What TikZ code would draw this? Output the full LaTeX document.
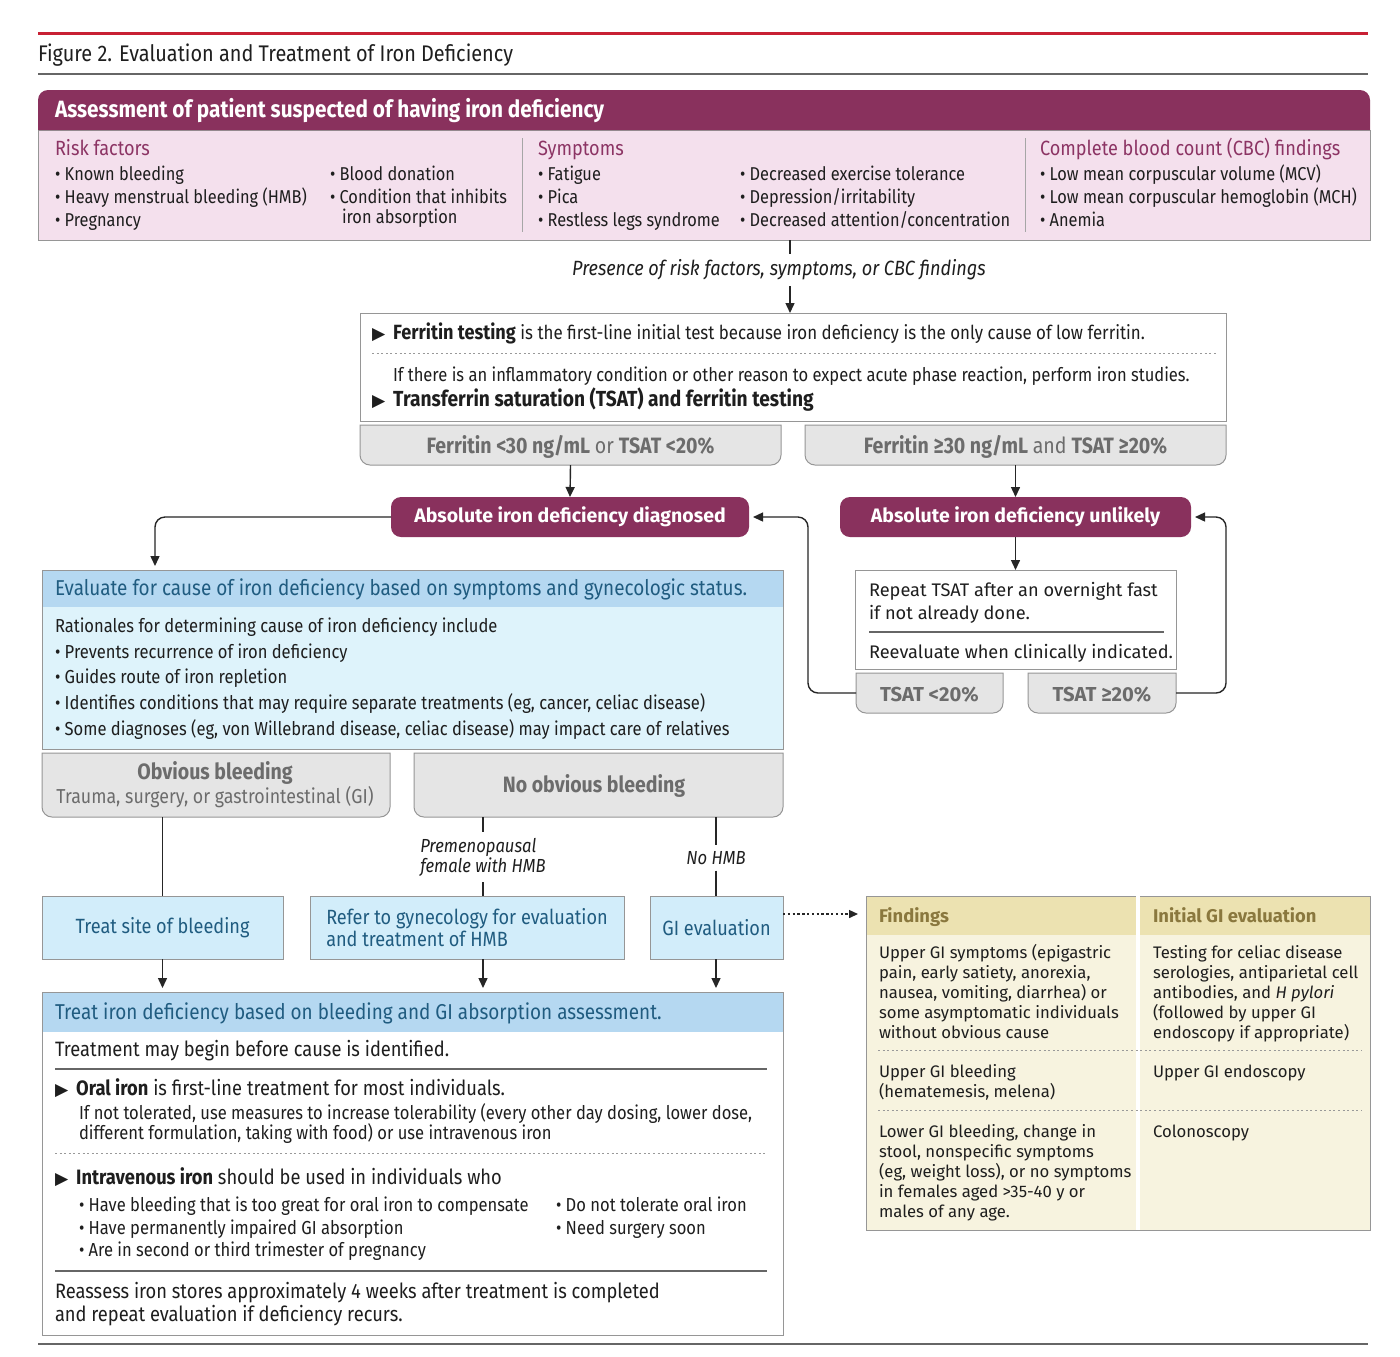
\documentclass[tikz,border=0pt]{standalone}
\usepackage{fontspec}
\setmainfont{Fira Sans}[FakeStretch=0.88]
\newfontfamily\widefont{Fira Sans}
\newfontfamily\symfont{DejaVu Sans}
\usetikzlibrary{arrows.meta,positioning}

% colours
\definecolor{jamared}{RGB}{200,32,52}
\definecolor{plum}{RGB}{137,49,93}
\definecolor{plumtext}{RGB}{140,52,100}
\definecolor{pinkfill}{RGB}{244,224,237}
\definecolor{boxline}{RGB}{150,150,150}
\definecolor{grayfill}{RGB}{229,229,229}
\definecolor{graytext}{RGB}{108,108,108}
\definecolor{bluehead}{RGB}{181,216,241}
\definecolor{bluebody}{RGB}{222,243,251}
\definecolor{bluetext}{RGB}{32,92,128}
\definecolor{cyanfill}{RGB}{210,237,250}
\definecolor{tanhead}{RGB}{236,226,177}
\definecolor{tanbody}{RGB}{247,243,223}
\definecolor{tantext}{RGB}{138,120,62}
\definecolor{inktext}{RGB}{30,30,30}

% font sizes
\newcommand\bodysize{\fontsize{9.3}{11}\selectfont}
\newcommand\bigsize{\fontsize{10.4}{12}\selectfont}
\newcommand\smallsize{\fontsize{9.4}{11}\selectfont}
\newcommand\tri{{\symfont\fontsize{8.6}{9}\selectfont ▶}}

% gray box with rounded lower corners, drawn round an empty node
\newcommand\graybottom[1]{%
  \draw[draw=boxline, fill=grayfill, line width=0.5pt] (#1.north west) -- (#1.north east)
    -- ([yshift=5pt]#1.south east) arc[start angle=0, end angle=-90, radius=5pt]
    -- ([xshift=5pt]#1.south west) arc[start angle=-90, end angle=-180, radius=5pt] -- cycle;}

\tikzset{
  every node/.style={inner sep=0pt, outer sep=0pt},
  txt/.style={anchor=mid west, yshift=-1pt, font=\bodysize, text=inktext},
  small/.style={anchor=mid west, yshift=-1pt, font=\smallsize, text=inktext},
  head/.style={anchor=mid west, yshift=-1pt, font=\fontsize{10.3}{12}\selectfont, text=plumtext},
  lbl/.style={font=\itshape\bodysize, text=inktext, inner sep=3pt, align=left},
  frame/.style={draw=boxline, line width=0.5pt},
  gtxt/.style={yshift=-1pt, font=\bfseries\fontsize{11.1}{12}\selectfont, text=graytext},
  plumbox/.style={fill=plum, rounded corners=5pt, text=white, minimum height=20pt,
    font=\widefont\bfseries\fontsize{9.75}{11}\selectfont},
  cyanbox/.style={frame, fill=cyanfill, minimum height=31.5pt, text=bluetext,
    font=\fontsize{10.3}{11}\selectfont, align=left},
  bluehd/.style={anchor=mid west, yshift=-1pt, font=\fontsize{10.75}{12}\selectfont, text=bluetext},
  wire/.style={draw=black!85, line width=0.7pt},
  arrow/.style={wire, -{Triangle[length=5pt, width=4.5pt]}},
  dots/.style={draw=black!40, line width=0.5pt, dash pattern=on 1pt off 1.3pt},
  tabtxt/.style={anchor=mid west, yshift=-1pt, font=\widefont\fontsize{8.35}{10}\selectfont, text=inktext},
  tabhd/.style={anchor=mid west, yshift=-1pt, font=\widefont\bfseries\fontsize{9.2}{10}\selectfont, text=tantext},
}

\begin{document}
\begin{tikzpicture}[x=0.5pt, y=-0.5pt]
\useasboundingbox (0,0) rectangle (1400,1356);
\fill[white] (0,0) rectangle (1400,1356);

% title and rules
\draw[jamared, line width=1.5pt] (38,33) -- (1368,33);
\node[anchor=mid west, yshift=-1pt, font=\fontsize{11.3}{13}\selectfont, text=inktext] (title) at (38,54) {Figure 2. Evaluation and Treatment of Iron Deficiency};
\draw[black!60, line width=0.6pt] (38,74) -- (1368,74);
\draw[black!60, line width=0.6pt] (38,1344) -- (1368,1344);

% assessment box
\node[minimum width=666pt, minimum height=75pt] (assess) at (704,165) {};
\draw[frame, fill=pinkfill] (38,130) rectangle (1370,240);
\fill[plum] (38,130) -- (38,100) arc[start angle=180, end angle=90, radius=5pt]
  -- (1360,90) arc[start angle=90, end angle=0, radius=5pt] -- (1370,130) -- cycle;
\node[anchor=mid west, yshift=-1pt, text=white, font=\bfseries\fontsize{11.8}{13}\selectfont] (assesshead) at (55,110) {Assessment of patient suspected of having iron deficiency};
\draw[black!35] (522,138) -- (522,232);
\draw[black!35] (1025,138) -- (1025,232);

\node[head] (riskhead) at (55,148) {Risk factors};
\node[txt] (risk1) at (55,173) {• Known bleeding};
\node[txt] (risk2) at (55,196) {• Heavy menstrual bleeding (HMB)};
\node[txt] (risk3) at (55,219) {• Pregnancy};
\node[txt] (risk4) at (330,173) {• Blood donation};
\node[txt] (risk5) at (330,196) {• Condition that inhibits};
\node[txt] (risk6) at (342,216) {iron absorption};

\node[head] (symphead) at (538,148) {Symptoms};
\node[txt] (symp1) at (538,173) {• Fatigue};
\node[txt] (symp2) at (538,196) {• Pica};
\node[txt] (symp3) at (538,219) {• Restless legs syndrome};
\node[txt] (symp4) at (740,173) {• Decreased exercise tolerance};
\node[txt] (symp5) at (740,196) {• Depression/irritability};
\node[txt] (symp6) at (740,219) {• Decreased attention/concentration};

\node[head] (cbchead) at (1040,148) {Complete blood count (CBC) findings};
\node[txt] (cbc1) at (1040,173) {• Low mean corpuscular volume (MCV)};
\node[txt] (cbc2) at (1040,196) {• Low mean corpuscular hemoglobin (MCH)};
\node[txt] (cbc3) at (1040,219) {• Anemia};

% testing
\coordinate (assessout) at (790,240);
\node[lbl, font=\itshape\fontsize{10.3}{12}\selectfont] (presence) at (779,270) {Presence of risk factors, symptoms, or CBC findings};
\node[frame, fill=white, minimum width=433pt, minimum height=54pt] (ferr) at (793,367) {};
\draw[wire] (assessout) -- (assessout |- presence.north);
\draw[arrow] (assessout |- presence.south) -- (assessout |- ferr.north);

\node[txt, font=\fontsize{9.6}{11}\selectfont] (ferr1) at (372,332) {\tri\hspace{4pt}{\fontsize{10.3}{11}\selectfont\bfseries Ferritin testing} is the first-line initial test because iron deficiency is the only cause of low ferritin.};
\draw[dots] (372,353) -- (1218,353);
\node[txt, font=\fontsize{9.4}{11}\selectfont] (ferr2) at (393,374) {If there is an inflammatory condition or other reason to expect acute phase reaction, perform iron studies.};
\node[txt] (ferr3) at (372,399) {\tri\hspace{4pt}{\fontsize{10.9}{12}\selectfont\bfseries Transferrin saturation (TSAT) and ferritin testing}};

\node[minimum width=210.5pt, minimum height=20pt] (ferrlow) at (570.5,445) {};
\graybottom{ferrlow}
\node[gtxt] (ferrlowtxt) at (ferrlow) {Ferritin <30 ng/mL \mdseries or \bfseries TSAT <20\%};
\node[minimum width=210.5pt, minimum height=20pt] (ferrhigh) at (1015.5,445) {};
\graybottom{ferrhigh}
\node[gtxt] (ferrhightxt) at (ferrhigh) {Ferritin ≥30 ng/mL \mdseries and \bfseries TSAT ≥20\%};

% outcome of testing
\node[plumbox, minimum width=179pt] (diag) at (570,517) {Absolute iron deficiency diagnosed};
\node[plumbox, minimum width=175.5pt] (unlikely) at (1015.5,517) {Absolute iron deficiency unlikely};
\draw[arrow] (ferrlow.south) -- (diag.north);
\draw[arrow] (ferrhigh.south) -- (unlikely.north);

\node[frame, fill=white, minimum width=160.5pt, minimum height=49.5pt] (retest) at (1015.5,619.5) {};
\draw[arrow] (unlikely.south) -- (retest.north);
\node[tabtxt, font=\widefont\fontsize{9.1}{10}\selectfont] (retest1) at (869,589) {Repeat TSAT after an overnight fast};
\node[tabtxt, font=\widefont\fontsize{9.1}{10}\selectfont] (retest2) at (869,612) {if not already done.};
\draw[black!60, line width=0.6pt] (869,632) -- (1164,632);
\node[tabtxt, font=\widefont\fontsize{9.1}{10}\selectfont] (retest3) at (869,651) {Reevaluate when clinically indicated.};

\node[minimum width=73.5pt, minimum height=20pt] (tsatlow) at (929.5,693) {};
\graybottom{tsatlow}
\node[gtxt, font=\widefont\bfseries\fontsize{10.1}{11}\selectfont] (tsatlowtxt) at (tsatlow) {TSAT <20\%};
\node[minimum width=74pt, minimum height=20pt] (tsathigh) at (1102,693) {};
\graybottom{tsathigh}
\node[gtxt, font=\widefont\bfseries\fontsize{10.1}{11}\selectfont] (tsathightxt) at (tsathigh) {TSAT ≥20\%};

\draw[arrow, rounded corners=5pt, shorten >=2pt] (tsatlow.west) -- ++(-48,0) |- (diag.east);
\draw[arrow, rounded corners=5pt, shorten >=2pt] (tsathigh.east) -- ++(50,0) |- (unlikely.east);

% evaluation of cause
\node[frame, fill=bluebody, minimum width=370.5pt, minimum height=89.5pt] (eval) at (412.5,659.5) {};
\fill[bluehead] (42,570) rectangle (783,607);
\draw[frame] (eval.south west) rectangle (eval.north east);
\coordinate (evalin) at (155,570);
\draw[arrow, rounded corners=5pt, shorten >=2pt] (diag.west) -| (evalin);
\node[bluehd] (evalhead) at (55,588) {Evaluate for cause of iron deficiency based on symptoms and gynecologic status.};
\node[small] (eval1) at (55,625) {Rationales for determining cause of iron deficiency include};
\node[small] (eval2) at (55,651) {• Prevents recurrence of iron deficiency};
\node[small] (eval3) at (55,676) {• Guides route of iron repletion};
\node[small] (eval4) at (55,702) {• Identifies conditions that may require separate treatments (eg, cancer, celiac disease)};
\node[small] (eval5) at (55,728) {• Some diagnoses (eg, von Willebrand disease, celiac disease) may impact care of relatives};

\node[minimum width=174pt, minimum height=32pt] (obvious) at (216,785) {};
\graybottom{obvious}
\node[gtxt] (obvious1) at (215,771) {Obvious bleeding};
\node[gtxt, font=\fontsize{10.1}{11}\selectfont] (obvious2) at (215,795) {Trauma, surgery, or gastrointestinal (GI)};
\node[minimum width=184.5pt, minimum height=32pt] (noobvious) at (598.5,785) {};
\graybottom{noobvious}
\node[gtxt] (noobvious1) at (594,784) {No obvious bleeding};

\node[cyanbox, minimum width=120.5pt] (site) at (162.5,927.5) {Treat site of bleeding};
\node[cyanbox, minimum width=157pt] (gyn) at (467,927.5) {Refer to gynecology for evaluation\\and treatment of HMB};
\node[cyanbox, minimum width=66.5pt] (gieval) at (716.5,927.5) {GI evaluation};

\node[lbl, font=\itshape\fontsize{9.45}{10}\selectfont] (premeno) at (483,857) {Premenopausal\\female with HMB};
\node[lbl, font=\itshape\fontsize{9.45}{10}\selectfont] (nohmb) at (716,858) {No HMB};

\draw[wire] (obvious.south -| site.north) -- (site.north);
\draw[wire] (noobvious.south -| premeno.north) -- (premeno.north);
\draw[wire] (premeno.south) -- (gyn.north -| premeno.south);
\draw[wire] (noobvious.south -| nohmb.north) -- (nohmb.north);
\draw[wire] (nohmb.south) -- (gieval.north -| nohmb.south);

% treatment
\node[frame, fill=white, minimum width=370.5pt, minimum height=171.5pt] (treat) at (412.5,1163.5) {};
\fill[bluehead] (42,992) rectangle (783,1032);
\draw[frame] (treat.south west) rectangle (treat.north east);
\draw[arrow, shorten >=2pt] (site.south) -- (treat.north -| site.south);
\draw[arrow, shorten >=2pt] (gyn.south -| premeno.south) -- (treat.north -| premeno.south);
\draw[arrow, shorten >=2pt] (gieval.south -| nohmb.south) -- (treat.north -| nohmb.south);

\node[bluehd] (treathead) at (55,1012) {Treat iron deficiency based on bleeding and GI absorption assessment.};
\node[txt, font=\bigsize] (treat1) at (55,1049) {Treatment may begin before cause is identified.};
\draw[black!60, line width=0.6pt] (55,1069) -- (767,1069);
\node[txt, font=\bigsize] (oral) at (55,1088) {\tri\hspace{4pt}\textbf{Oral iron} is first-line treatment for most individuals.};
\node[small] (oral1) at (79,1112) {If not tolerated, use measures to increase tolerability (every other day dosing, lower dose,};
\node[small] (oral2) at (79,1132) {different formulation, taking with food) or use intravenous iron};
\draw[dots] (55,1153) -- (767,1153);
\node[txt, font=\bigsize] (iv) at (55,1177) {\tri\hspace{4pt}\textbf{Intravenous iron} should be used in individuals who};
\node[small] (iv1) at (79,1204) {• Have bleeding that is too great for oral iron to compensate};
\node[small] (iv2) at (79,1227) {• Have permanently impaired GI absorption};
\node[small] (iv3) at (79,1249) {• Are in second or third trimester of pregnancy};
\node[small] (iv4) at (556,1204) {• Do not tolerate oral iron};
\node[small] (iv5) at (556,1227) {• Need surgery soon};
\draw[black!60, line width=0.6pt] (55,1271) -- (767,1271);
\node[txt, font=\bigsize] (reassess1) at (55,1291) {Reassess iron stores approximately 4 weeks after treatment is completed};
\node[txt, font=\bigsize] (reassess2) at (55,1314) {and repeat evaluation if deficiency recurs.};

% GI findings table
\node[frame, fill=tanbody, minimum width=252pt, minimum height=167pt] (findings) at (1118,1063) {};
\fill[tanhead] (866,896) rectangle (1370,935);
\draw[frame] (findings.south west) rectangle (findings.north east);
\draw[white, line width=2pt] (1138,896) -- (1138,1230);
\draw[arrow, dash pattern=on 1.2pt off 1.2pt, -{Triangle[length=4.5pt, width=4pt]}] ([yshift=6.75pt]gieval.east) -- ([yshift=6.75pt, xshift=-4pt]gieval.east -| findings.west);
\node[tabhd] (findhead) at (879,915) {Findings};
\node[tabhd] (gihead) at (1153,915) {Initial GI evaluation};
\draw[dots] (878,1050) -- (1362,1050);
\draw[dots] (878,1110) -- (1362,1110);

\foreach \y/\t [count=\i] in {951/{Upper GI symptoms (epigastric}, 971/{pain, early satiety, anorexia,},
    991/{nausea, vomiting, diarrhea) or}, 1011/{some asymptomatic individuals}, 1031/{without obvious cause},
    1070/{Upper GI bleeding}, 1090/{(hematemesis, melena)},
    1130/{Lower GI bleeding, change in}, 1150/{stool, nonspecific symptoms},
    1170/{(eg, weight loss), or no symptoms}, 1190/{in females aged >35-40 y or}, 1210/{males of any age.}}
  \node[tabtxt] (find\i) at (879,\y) {\t};
\foreach \y/\t [count=\i] in {951/{Testing for celiac disease}, 971/{serologies, antiparietal cell},
    991/{antibodies, and \textit{H pylori}}, 1011/{(followed by upper GI}, 1031/{endoscopy if appropriate)},
    1070/{Upper GI endoscopy}, 1130/{Colonoscopy}}
  \node[tabtxt] (gi\i) at (1153,\y) {\t};
\end{tikzpicture}
\end{document}
